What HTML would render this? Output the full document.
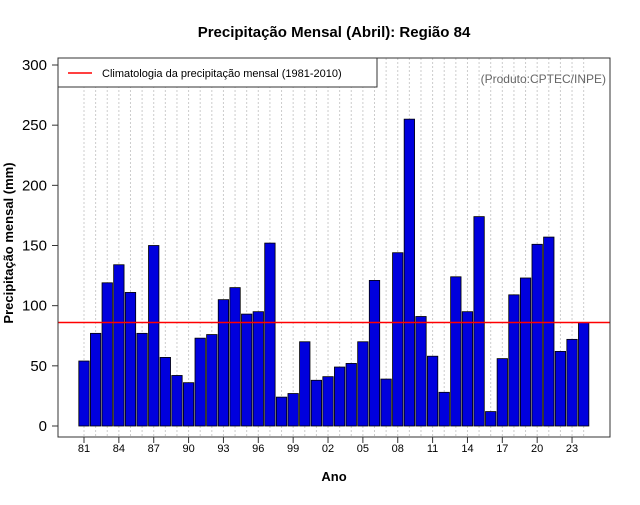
<!DOCTYPE html>
<html><head><meta charset="utf-8"><style>
body{margin:0;background:#fff;font-family:"Liberation Sans",sans-serif}
</style></head><body>
<svg id="c" width="640" height="500" xmlns="http://www.w3.org/2000/svg" font-family="Liberation Sans, sans-serif">
<text x="334" y="37" text-anchor="middle" font-size="15" font-weight="bold">Precipitação Mensal (Abril): Região 84</text>
<g id="grid"></g><g id="bars"></g><g id="axes"></g>
</svg>
<script>
const years=[1981,1982,1983,1984,1985,1986,1987,1988,1989,1990,1991,1992,1993,1994,1995,1996,1997,1998,1999,2000,2001,2002,2003,2004,2005,2006,2007,2008,2009,2010,2011,2012,2013,2014,2015,2016,2017,2018,2019,2020,2021,2022,2023,2024];
const precip=[54,77,119,134,111,77,150,57,42,36,73,76,105,115,93,95,152,24,27,70,38,41,49,52,70,121,39,144,255,91,58,28,124,95,174,12,56,109,123,151,157,62,72,86];
const climatology=86;
const yTicks=[0,50,100,150,200,250,300];
const NS="http://www.w3.org/2000/svg";
const L=58,R=610,T=58,B=437;
const y=v=>426-v*(361/300);
const x=i=>84+i*11.62;
function mk(p,t,a){const e=document.createElementNS(NS,t);for(const k in a)e.setAttribute(k,a[k]);document.getElementById(p).appendChild(e);return e;}
years.forEach((yr,i)=>{
 const g=mk('grid','line',{x1:x(i),x2:x(i),y1:T,y2:B,stroke:'#ccc','stroke-dasharray':'2,2','stroke-width':1});
 
 
});
precip.forEach((v,i)=>{
 const r=mk('bars','rect',{x:x(i)-5.2,y:y(v),width:10.4,height:426-y(v),fill:'#0000dd',stroke:'#000','stroke-width':0.8});
 
 
});
const cl=mk('axes','line',{x1:L,x2:R,y1:y(climatology),y2:y(climatology),stroke:'#f00','stroke-width':1.5});


const box=mk('axes','rect',{x:L,y:T,width:R-L,height:B-T,fill:'none',stroke:'#333','stroke-width':1});


yTicks.forEach(t=>{
 const l=mk('axes','line',{x1:L-6,x2:L,y1:y(t),y2:y(t),stroke:'#333'});
 
 
 const tx=mk('axes','text',{x:L-11,y:y(t)+5,'text-anchor':'end','font-size':15});
 tx.textContent=t;
 
 
});
years.forEach((yr,i)=>{
 if(i%3)return;
 const l=mk('axes','line',{x1:x(i),x2:x(i),y1:B,y2:B+6,stroke:'#333'});
 
 
 const tx=mk('axes','text',{x:x(i),y:B+15,'text-anchor':'middle','font-size':11});
 tx.textContent=String(yr).slice(2);
 
 
});
const lg=mk('axes','rect',{x:L,y:T,width:319,height:29,fill:'#fff',stroke:'#333'});


const ll=mk('axes','line',{x1:68,x2:92,y1:73,y2:73,stroke:'#f00','stroke-width':1.5});


const lt=mk('axes','text',{x:102,y:77,'font-size':11});
lt.textContent='Climatologia da precipitação mensal (1981-2010)';


const src=mk('axes','text',{x:606,y:83,'text-anchor':'end','font-size':12,fill:'#666'});
src.textContent='(Produto:CPTEC/INPE)';


const xt=mk('axes','text',{x:334,y:481,'text-anchor':'middle','font-size':13,'font-weight':'bold'});
xt.textContent='Ano';


const yt=mk('axes','text',{x:0,y:0,'text-anchor':'middle','font-size':13,'font-weight':'bold',transform:'translate(13,243) rotate(-90)'});
yt.textContent='Precipitação mensal (mm)';


</script>
</body></html>
